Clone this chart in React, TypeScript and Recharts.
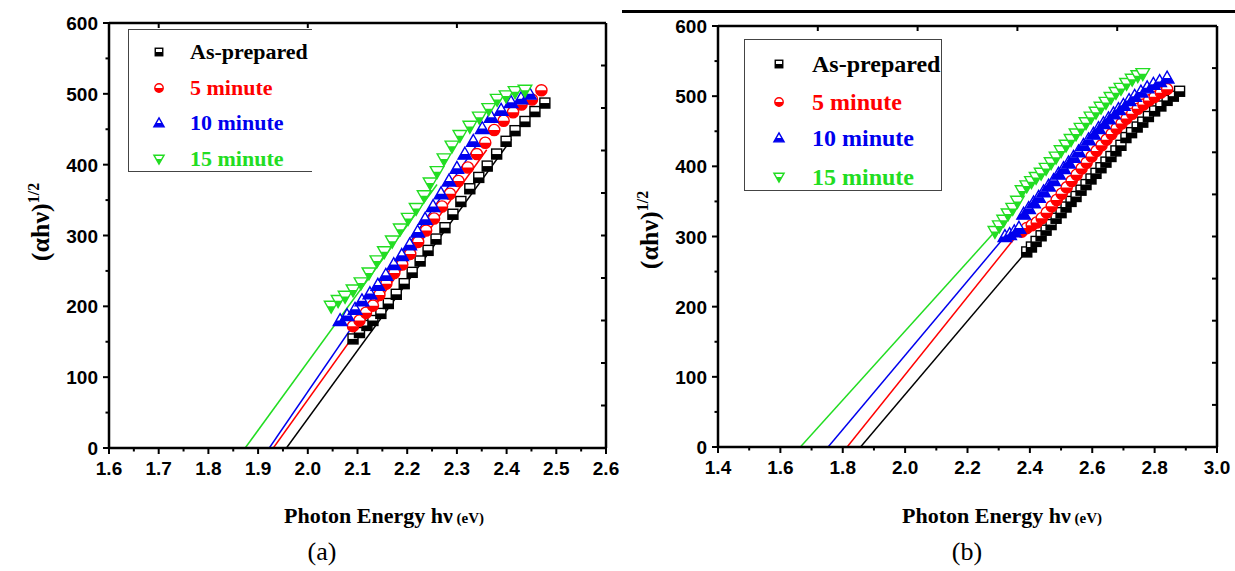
import { ComposedChart, Scatter, Line, XAxis, YAxis } from "recharts";

type Pt = [number, number];

const seriesNames = ["As-prepared", "5 minute", "10 minute", "15 minute"];
const seriesColors = ["#000000", "#ff0000", "#0000ee", "#22dd22"];
const seriesShapes = ["square", "circle", "up", "down"];

// panel (a)
const aBlack: Pt[] = [
  [2.091, 154], [2.104, 163], [2.119, 173], [2.131, 180], [2.147, 190], [2.162, 204],
  [2.178, 217], [2.194, 232], [2.21, 248], [2.226, 264], [2.242, 279], [2.258, 295],
  [2.276, 311], [2.292, 330], [2.308, 348], [2.326, 366], [2.344, 382], [2.361, 398],
  [2.38, 415], [2.399, 433], [2.417, 448], [2.437, 461], [2.457, 475], [2.477, 487],
];
const aRed: Pt[] = [
  [2.091, 172], [2.104, 180], [2.117, 191], [2.131, 201], [2.144, 216], [2.158, 232],
  [2.174, 247], [2.19, 259], [2.206, 274], [2.222, 291], [2.238, 307], [2.254, 324],
  [2.27, 341], [2.286, 359], [2.303, 377], [2.322, 396], [2.34, 415], [2.357, 431],
  [2.375, 449], [2.394, 462], [2.413, 474], [2.43, 485], [2.451, 492], [2.47, 505],
];
const aBlue: Pt[] = [
  [2.065, 180], [2.079, 187], [2.095, 196], [2.109, 208], [2.125, 218], [2.141, 230],
  [2.157, 244], [2.173, 259], [2.189, 272], [2.205, 287], [2.221, 305], [2.236, 323],
  [2.252, 341], [2.268, 359], [2.284, 377], [2.3, 395], [2.316, 415], [2.333, 433],
  [2.351, 451], [2.369, 467], [2.389, 477], [2.409, 488], [2.429, 493], [2.446, 500],
];
const aGreen: Pt[] = [
  [2.047, 200], [2.061, 208], [2.075, 214], [2.091, 223], [2.107, 233], [2.123, 247],
  [2.139, 264], [2.154, 277], [2.17, 292], [2.186, 309], [2.202, 324], [2.218, 338],
  [2.234, 356], [2.246, 374], [2.26, 390], [2.274, 408], [2.29, 426], [2.306, 441],
  [2.326, 454], [2.345, 467], [2.364, 479], [2.381, 492], [2.399, 497], [2.417, 503],
  [2.437, 505],
];
const aFits: Pt[][] = [
  [[1.957, 0], [2.41, 436]],
  [[1.9306, 0], [2.36, 421]],
  [[1.9225, 0], [2.34, 428]],
  [[1.874, 0], [2.26, 372]],
];

// panel (b)
const bBlack: Pt[] = [
  [2.39, 278], [2.405, 285], [2.42, 293], [2.436, 301], [2.452, 309], [2.468, 317],
  [2.484, 326], [2.5, 334], [2.516, 342], [2.532, 350], [2.548, 357], [2.564, 366],
  [2.58, 374], [2.596, 382], [2.612, 390], [2.628, 398], [2.644, 406], [2.66, 414],
  [2.676, 422], [2.692, 430], [2.708, 441], [2.726, 448], [2.744, 456], [2.762, 463],
  [2.78, 471], [2.8, 479], [2.82, 486], [2.84, 494], [2.86, 500], [2.88, 507],
];
const bRed: Pt[] = [
  [2.374, 307], [2.39, 312], [2.406, 316], [2.422, 320], [2.438, 326], [2.454, 334],
  [2.47, 343], [2.486, 352], [2.502, 361], [2.518, 370], [2.534, 379], [2.55, 388],
  [2.566, 397], [2.582, 405], [2.598, 414], [2.614, 422], [2.63, 430], [2.646, 438],
  [2.662, 446], [2.678, 454], [2.694, 461], [2.71, 468], [2.728, 475], [2.746, 482],
  [2.764, 488], [2.782, 494], [2.8, 499], [2.82, 505], [2.84, 510],
];
const bBlue: Pt[] = [
  [2.32, 300], [2.335, 303], [2.35, 307], [2.365, 312], [2.38, 332], [2.396, 340],
  [2.412, 348], [2.428, 356], [2.444, 364], [2.46, 372], [2.476, 380], [2.492, 389],
  [2.508, 397], [2.524, 405], [2.54, 413], [2.556, 421], [2.572, 430], [2.588, 438],
  [2.604, 446], [2.62, 454], [2.636, 461], [2.652, 468], [2.668, 475], [2.684, 481],
  [2.7, 487], [2.718, 494], [2.736, 500], [2.756, 506], [2.776, 512], [2.796, 517],
  [2.816, 521], [2.84, 526],
];
const bGreen: Pt[] = [
  [2.288, 307], [2.302, 315], [2.316, 323], [2.33, 332], [2.345, 340], [2.36, 350],
  [2.375, 365], [2.39, 372], [2.405, 378], [2.42, 384], [2.436, 390], [2.452, 397],
  [2.468, 405], [2.484, 413], [2.5, 422], [2.516, 430], [2.532, 438], [2.548, 446],
  [2.564, 454], [2.58, 462], [2.596, 470], [2.612, 477], [2.628, 484], [2.644, 491],
  [2.66, 498], [2.676, 505], [2.692, 511], [2.71, 518], [2.728, 524], [2.746, 529],
  [2.762, 532],
];
const bFits: Pt[][] = [
  [[1.857, 0], [2.384, 276]],
  [[1.814, 0], [2.368, 307]],
  [[1.753, 0], [2.32, 300]],
  [[1.664, 0], [2.288, 307]],
];

// ticks
const aXMajor = [1.6, 1.7, 1.8, 1.9, 2.0, 2.1, 2.2, 2.3, 2.4, 2.5, 2.6];
const aXMinor = [1.65, 1.75, 1.85, 1.95, 2.05, 2.15, 2.25, 2.35, 2.45, 2.55];
const aXTop = [1.7, 2.0, 2.3];
const bXMajor = [1.4, 1.6, 1.8, 2.0, 2.2, 2.4, 2.6, 2.8, 3.0];
const bXMinor = [1.5, 1.7, 1.9, 2.1, 2.3, 2.5, 2.7, 2.9];
const bXTop = [1.72, 2.04, 2.36, 2.68];
const yMajor = [0, 100, 200, 300, 400, 500, 600];
const yMinor = [50, 150, 250, 350, 450, 550];
const yRight = [60, 120, 180, 240, 300, 360, 420, 480, 540];

const toPts = (arr: Pt[]) => arr.map(([x, y]) => ({ x, y }));
const isIn = (list: number[], v: number) => list.some((m) => Math.abs(m - v) < 1e-6);

function Marker(props: any) {
  const { cx, cy, kind, color, s = 1 } = props;
  if (cx == null || cy == null) return null;
  if (kind === "square") {
    const h = 5 * s;
    return (
      <g>
        <rect x={cx - h} y={cy - h} width={2 * h} height={2 * h} fill="#fff" stroke={color} strokeWidth={1.4} />
        <rect x={cx - h} y={cy} width={2 * h} height={h} fill={color} />
      </g>
    );
  }
  if (kind === "circle") {
    const r = 5.6 * s;
    return (
      <g>
        <circle cx={cx} cy={cy} r={r} fill="#fff" stroke={color} strokeWidth={1.4} />
        <path d={`M${cx - r},${cy} A${r},${r} 0 0 0 ${cx + r},${cy} Z`} fill={color} />
      </g>
    );
  }
  const a = 6.8 * s;
  if (kind === "up") {
    const top = cy - a, bot = cy + 0.75 * a;
    const ym = cy;
    const w = (a * (ym - top)) / (bot - top);
    return (
      <g>
        <polygon points={`${cx},${top} ${cx + a},${bot} ${cx - a},${bot}`} fill="#fff" stroke={color} strokeWidth={1.4} />
        <polygon points={`${cx - w},${ym} ${cx + w},${ym} ${cx + a},${bot} ${cx - a},${bot}`} fill={color} />
      </g>
    );
  }
  const top = cy - 0.75 * a, bot = cy + a;
  const ym = cy;
  const w = (a * (bot - ym)) / (bot - top);
  return (
    <g>
      <polygon points={`${cx - a},${top} ${cx + a},${top} ${cx},${bot}`} fill="#fff" stroke={color} strokeWidth={1.4} />
      <polygon points={`${cx - w},${ym} ${cx + w},${ym} ${cx},${bot}`} fill={color} />
    </g>
  );
}

const sansBold = "'Liberation Sans', Arial, sans-serif";
const serif = "'Liberation Serif', 'Times New Roman', serif";

function Panel(props: {
  width: number;
  margin: { top: number; right: number; bottom: number; left: number };
  domain: [number, number];
  xMajor: number[];
  xMinor: number[];
  xTop: number[];
  series: Pt[][];
  fits: Pt[][];
}) {
  const { width, margin, domain, xMajor, xMinor, xTop, series, fits } = props;
  const ax = { stroke: "#000", strokeWidth: 2.5 };
  const xAll = [...xMajor, ...xMinor].sort((p, q) => p - q);
  const yAll = [...yMajor, ...yMinor].sort((p, q) => p - q);

  const bottomTick = (p: any) => {
    const v = p.payload.value;
    const major = isIn(xMajor, v);
    return (
      <g>
        <line x1={p.x} y1={p.y} x2={p.x} y2={p.y + (major ? 6 : 3.5)} stroke="#000" strokeWidth={2} />
        {major && (
          <text x={p.x} y={p.y + 27} textAnchor="middle" fill="#000" fontSize={19} fontWeight={700} fontFamily={sansBold}>
            {v.toFixed(1)}
          </text>
        )}
      </g>
    );
  };
  const leftTick = (p: any) => {
    const v = p.payload.value;
    const major = isIn(yMajor, v);
    return (
      <g>
        <line x1={p.x} y1={p.y} x2={p.x - (major ? 6 : 3.5)} y2={p.y} stroke="#000" strokeWidth={2} />
        {major && (
          <text x={p.x - 11} y={p.y + 7} textAnchor="end" fill="#000" fontSize={19} fontWeight={700} fontFamily={sansBold}>
            {v}
          </text>
        )}
      </g>
    );
  };
  const topTick = (p: any) => <line x1={p.x} y1={p.y} x2={p.x} y2={p.y + 5} stroke="#000" strokeWidth={2} />;
  const rightTick = (p: any) => <line x1={p.x} y1={p.y} x2={p.x - 5} y2={p.y} stroke="#000" strokeWidth={2} />;

  return (
    <ComposedChart width={width} height={571} margin={margin}>
      <XAxis xAxisId="m" type="number" dataKey="x" domain={domain} ticks={xAll} allowDataOverflow
        height={30} tickSize={0} tickMargin={0} axisLine={ax} tickLine={false} tick={bottomTick} interval={0} />
      <XAxis xAxisId="t" type="number" dataKey="x" orientation="top" mirror domain={domain} ticks={xTop}
        allowDataOverflow height={2} tickSize={0} tickMargin={0} axisLine={ax} tickLine={false} tick={topTick} interval={0} />
      <YAxis yAxisId="m" type="number" dataKey="y" domain={[0, 600]} ticks={yAll} allowDataOverflow
        width={60} tickSize={0} tickMargin={0} axisLine={ax} tickLine={false} tick={leftTick} interval={0} />
      <YAxis yAxisId="r" type="number" dataKey="y" orientation="right" mirror domain={[0, 600]} ticks={yRight}
        allowDataOverflow width={2} tickSize={0} tickMargin={0} axisLine={ax} tickLine={false} tick={rightTick} interval={0} />
      {fits.map((f, i) => (
        <Line key={"f" + i} xAxisId="m" yAxisId="m" data={toPts(f)} dataKey="y" type="linear"
          stroke={seriesColors[i]} strokeWidth={1.5} dot={false} activeDot={false} isAnimationActive={false} />
      ))}
      {series.map((s, i) => (
        <Scatter key={"s" + i} xAxisId="m" yAxisId="m" data={toPts(s)} dataKey="y" isAnimationActive={false}
          shape={(p: any) => <Marker cx={p.cx} cy={p.cy} kind={seriesShapes[i]} color={seriesColors[i]} />} />
      ))}
    </ComposedChart>
  );
}

function LegendBox(props: { left: number; top: number; width: number; height: number; rows: number[]; fontSize: number; textLeft: number; symLeft: number; noRight?: boolean }) {
  const { left, top, width, height, rows, fontSize, textLeft, symLeft, noRight } = props;
  return (
    <div style={{ position: "absolute", left, top, width, height, border: "1px solid #444", borderRight: noRight ? "none" : "1px solid #444", boxSizing: "border-box" }}>
      {seriesNames.map((n, i) => (
        <div key={n}>
          <svg width={16} height={16} style={{ position: "absolute", left: symLeft - left - 8, top: rows[i] - top - 8 }}>
            <Marker cx={8} cy={8} kind={seriesShapes[i]} color={seriesColors[i]} s={0.75} />
          </svg>
          <div style={{ position: "absolute", left: textLeft - left, top: rows[i] - top - fontSize * 0.6, fontFamily: serif, fontWeight: 700, fontSize, lineHeight: `${fontSize * 1.2}px`, color: seriesColors[i], whiteSpace: "nowrap" }}>
            {n}
          </div>
        </div>
      ))}
    </div>
  );
}

function YTitle({ x, y }: { x: number; y: number }) {
  return (
    <div style={{ position: "absolute", left: x - 70, top: y - 16, width: 140, height: 32, textAlign: "center", transform: "rotate(-90deg)", fontFamily: serif, fontWeight: 700, fontSize: 26, lineHeight: "32px", whiteSpace: "nowrap" }}>
      (αhν)<sup style={{ fontSize: 16, verticalAlign: "0.6em" }}>1/2</sup>
    </div>
  );
}

function XTitle({ cx, y }: { cx: number; y: number }) {
  return (
    <div style={{ position: "absolute", left: cx - 150, top: y, width: 300, textAlign: "center", fontFamily: serif, fontWeight: 700, fontSize: 22, whiteSpace: "nowrap" }}>
      Photon Energy hν<span style={{ fontSize: 15 }}> (eV)</span>
    </div>
  );
}

export default function App() {
  return (
    <div style={{ position: "fixed", left: 0, top: 0, width: 1235, height: 571, background: "#fff", overflow: "hidden" }}>
      <div style={{ position: "absolute", left: 615, top: 0 }}>
        <Panel width={620} margin={{ top: 26, right: 18, bottom: 94, left: 43 }} domain={[1.4, 3.0]}
          xMajor={bXMajor} xMinor={bXMinor} xTop={bXTop} series={[bBlack, bRed, bBlue, bGreen]} fits={bFits} />
      </div>
      <div style={{ position: "absolute", left: 0, top: 0 }}>
        <Panel width={630} margin={{ top: 23, right: 24, bottom: 93, left: 49 }} domain={[1.6, 2.6]}
          xMajor={aXMajor} xMinor={aXMinor} xTop={aXTop} series={[aBlack, aRed, aBlue, aGreen]} fits={aFits} />
      </div>
      <div style={{ position: "absolute", left: 622, top: 10, width: 613, height: 3, background: "#000" }} />
      <LegendBox left={128} top={29} width={184} height={143} rows={[51, 87, 122, 158]} fontSize={22} textLeft={189} symLeft={158} noRight />
      <LegendBox left={744} top={39} width={198} height={152} rows={[63, 101, 137, 176]} fontSize={24} textLeft={811} symLeft={778} />
      <YTitle x={34} y={222} />
      <YTitle x={643} y={230} />
      <XTitle cx={384} y={503} />
      <XTitle cx={1002} y={503} />
      <div style={{ position: "absolute", left: 272, top: 537, width: 100, textAlign: "center", fontFamily: serif, fontSize: 26 }}>(a)</div>
      <div style={{ position: "absolute", left: 917, top: 537, width: 100, textAlign: "center", fontFamily: serif, fontSize: 26 }}>(b)</div>
    </div>
  );
}
